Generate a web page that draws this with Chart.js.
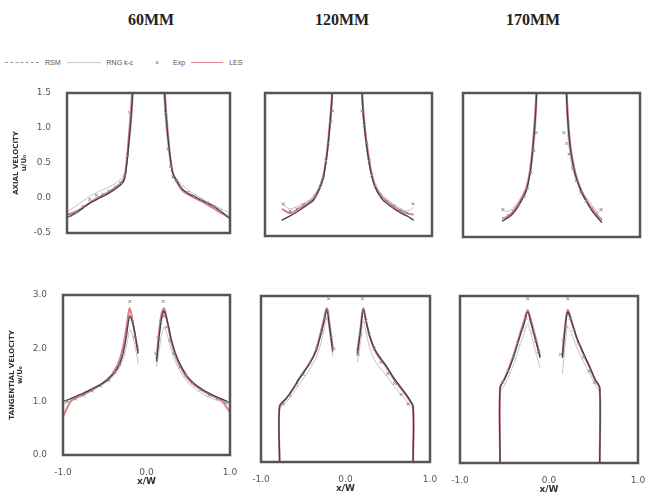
<!DOCTYPE html>
<html lang="en">
<head>
  <meta charset="UTF-8">
  <title>Axial and tangential velocity profiles</title>
  <script src="https://cdn.jsdelivr.net/npm/chart.js"></script>
  <style>
    body { margin: 0; background: #fff; width: 646px; height: 495px; overflow: hidden; position: relative; font-family: "Liberation Sans", Arial, sans-serif; }
    canvas { position: absolute; }
    .title { position: absolute; top: 11px; font: bold 16px "Liberation Serif", "Times New Roman", serif; color: #222; transform: translateX(-50%); }
    #legend { position: absolute; left: 5px; top: 59px; display: flex; align-items: center; font-size: 7px; color: #555; }
    #legend .ln { display: inline-block; width: 34px; height: 0; border-top: 1px solid #bbb; margin-right: 6px; }
    #legend .lab { margin-right: 6px; }
  </style>
</head>
<body>
  <div class="title" style="left:151px">60MM</div>
  <div class="title" style="left:342px">120MM</div>
  <div class="title" style="left:533px">170MM</div>
  <div id="legend">
    <span class="ln" style="border-top:1px dashed #999"></span><span class="lab">RSM</span>
    <span class="ln" style="border-top-color:#ccc"></span><span class="lab">RNG k-ε</span>
    <span class="lab" style="margin-left:16px;margin-right:14px;color:#777">×</span><span class="lab">Exp</span>
    <span class="ln" style="border-top:1.5px solid #e08a96;width:32px"></span><span class="lab">LES</span>
  </div>

  <canvas id="c1"></canvas>
  <canvas id="c2"></canvas>
  <canvas id="c3"></canvas>
  <canvas id="c4"></canvas>
  <canvas id="c5"></canvas>
  <canvas id="c6"></canvas>

  <script>
    // axial velocity, 60MM
    const axial60X   = [-1.0,-0.9,-0.8,-0.7,-0.6,-0.5,-0.42,-0.35,-0.3,-0.27,-0.24,-0.21,-0.18,0,0.18,0.21,0.24,0.27,0.3,0.35,0.42,0.5,0.6,0.7,0.8,0.9,1.0];
    const axial60Rsm = [-0.28,-0.22,-0.14,-0.06,0.0,0.06,0.12,0.18,0.25,0.45,0.8,1.2,1.8,null,1.8,1.25,0.85,0.55,0.35,0.24,0.12,0.06,0.0,-0.06,-0.12,-0.2,-0.3];
    const axial60Les = [-0.24,-0.2,-0.13,-0.05,0.02,0.08,0.14,0.2,0.28,0.5,0.9,1.35,2.0,null,2.0,1.35,0.9,0.55,0.35,0.22,0.1,0.04,-0.02,-0.08,-0.15,-0.22,-0.28];
    const axial60Rng = [-0.2,-0.12,-0.04,0.04,0.1,0.15,0.2,0.26,0.33,0.48,0.72,1.05,1.55,null,1.55,1.05,0.72,0.48,0.35,0.26,0.18,0.1,0.03,-0.04,-0.1,-0.16,-0.22];
    const axial60ExpX = [-0.96,-0.88,-0.8,-0.72,-0.64,-0.56,-0.48,-0.4,-0.34,-0.29,-0.26,-0.23,0.21,0.24,0.27,0.3,0.34,0.4,0.48,0.56,0.64,0.72,0.8,0.88,0.96];
    const axial60Exp  = [-0.25,-0.2,-0.12,-0.02,0.04,0.05,0.1,0.16,0.22,0.32,0.6,1.22,1.22,0.7,0.45,0.3,0.25,0.15,0.08,0.03,-0.02,-0.07,-0.12,-0.18,-0.25];

    // axial velocity, 120MM
    const axial120X   = [-0.8,-0.7,-0.6,-0.5,-0.42,-0.35,-0.3,-0.26,-0.23,-0.2,-0.17,0,0.14,0.17,0.2,0.23,0.27,0.32,0.4,0.5,0.6,0.7,0.78];
    const axial120Rsm = [-0.28,-0.22,-0.15,-0.07,0.0,0.15,0.32,0.62,0.95,1.38,2.1,null,2.1,1.3,0.92,0.65,0.38,0.18,0.02,-0.08,-0.16,-0.22,-0.28];
    const axial120Les = [-0.12,-0.18,-0.12,-0.05,0.03,0.17,0.35,0.65,1.0,1.45,2.1,null,2.1,1.4,0.98,0.7,0.42,0.2,0.05,-0.05,-0.13,-0.18,-0.2];
    const axial120Rng = [-0.05,-0.12,-0.08,-0.02,0.06,0.2,0.38,0.6,0.88,1.25,1.9,null,1.9,1.2,0.85,0.6,0.38,0.22,0.08,-0.02,-0.1,-0.15,-0.1];
    const axial120ExpX = [-0.78,-0.7,-0.62,-0.54,-0.46,-0.4,-0.34,-0.3,-0.27,-0.24,-0.21,-0.19,0.16,0.19,0.22,0.25,0.28,0.32,0.38,0.46,0.54,0.62,0.7,0.77];
    const axial120Exp  = [-0.05,-0.15,-0.12,-0.06,-0.02,0.05,0.18,0.32,0.55,0.8,1.1,1.25,1.25,1.05,0.8,0.55,0.35,0.2,0.08,-0.02,-0.08,-0.14,-0.18,-0.05];

    // axial velocity, 170MM
    const axial170X   = [-0.56,-0.5,-0.44,-0.38,-0.32,-0.28,-0.24,-0.21,-0.18,-0.15,0,0.15,0.18,0.21,0.25,0.29,0.34,0.4,0.46,0.52,0.57];
    const axial170Rsm = [-0.28,-0.24,-0.18,-0.08,0.05,0.16,0.4,0.74,1.2,2.1,null,2.1,1.2,0.76,0.46,0.28,0.12,-0.02,-0.14,-0.23,-0.3];
    const axial170Les = [-0.24,-0.22,-0.15,-0.05,0.08,0.2,0.45,0.8,1.3,2.1,null,2.1,1.3,0.8,0.5,0.3,0.14,0.0,-0.11,-0.2,-0.26];
    const axial170Rng = [-0.1,-0.15,-0.1,-0.02,0.1,0.2,0.38,0.62,1.0,1.8,null,1.8,1.0,0.62,0.4,0.26,0.14,0.04,-0.06,-0.15,-0.1];
    const axial170ExpX = [-0.55,-0.49,-0.43,-0.37,-0.31,-0.27,-0.23,-0.2,-0.17,0.14,0.17,0.2,0.24,0.28,0.33,0.39,0.45,0.51,0.56];
    const axial170Exp  = [-0.12,-0.2,-0.14,-0.06,0.06,0.18,0.4,0.7,0.95,0.95,0.8,0.65,0.45,0.28,0.12,0.0,-0.1,-0.18,-0.12];

    // tangential velocity, 60MM
    const tang60X   = [-1.0,-0.9,-0.8,-0.7,-0.6,-0.5,-0.42,-0.35,-0.3,-0.26,-0.23,-0.2,-0.16,-0.12,-0.1,0,0.12,0.15,0.18,0.21,0.25,0.3,0.36,0.43,0.5,0.6,0.7,0.8,0.9,1.0];
    const tang60Rsm = [1.0,1.06,1.13,1.2,1.28,1.37,1.48,1.62,1.8,2.05,2.35,2.6,2.45,2.1,1.9,null,1.75,2.2,2.55,2.7,2.5,2.15,1.85,1.62,1.45,1.3,1.2,1.12,1.05,0.98];
    const tang60Les = [0.72,1.02,1.1,1.18,1.27,1.38,1.5,1.68,1.9,2.2,2.5,2.75,2.45,2.1,1.95,null,1.8,2.3,2.65,2.75,2.5,2.1,1.8,1.58,1.42,1.28,1.18,1.1,1.02,0.8];
    const tang60Rng = [0.95,1.02,1.1,1.17,1.25,1.34,1.44,1.57,1.72,1.9,2.1,2.35,2.2,1.9,1.7,null,1.65,1.95,2.25,2.4,2.25,1.95,1.7,1.5,1.35,1.22,1.12,1.05,1.0,0.95];
    const tang60ExpX = [-0.95,-0.85,-0.75,-0.65,-0.55,-0.45,-0.38,-0.32,-0.28,-0.24,-0.21,-0.2,-0.17,-0.14,-0.11,0.11,0.14,0.17,0.2,0.21,0.24,0.28,0.33,0.4,0.47,0.55,0.65,0.75,0.85,0.95];
    const tang60Exp  = [1.0,1.05,1.12,1.2,1.3,1.4,1.55,1.7,1.9,2.25,2.6,2.88,2.5,2.2,2.0,1.9,2.2,2.5,2.88,2.6,2.4,2.15,1.9,1.65,1.5,1.35,1.22,1.12,1.05,0.98];

    // tangential velocity, 120MM
    const tang120X   = [-0.78,-0.78,-0.7,-0.63,-0.55,-0.42,-0.35,-0.3,-0.26,-0.22,-0.19,-0.15,0,0.14,0.18,0.21,0.25,0.29,0.36,0.49,0.58,0.68,0.75,0.8,0.8];
    const tang120Rsm = [0,1.0,1.15,1.3,1.5,1.79,2.0,2.26,2.5,2.75,2.45,2.0,null,1.93,2.4,2.75,2.5,2.26,2.0,1.72,1.5,1.3,1.15,1.0,0];
    const tang120Les = [0,1.0,1.15,1.3,1.5,1.8,2.02,2.3,2.55,2.78,2.5,2.05,null,2.0,2.45,2.78,2.5,2.25,1.98,1.7,1.48,1.28,1.13,1.0,0];
    const tang120Rng = [0,0.95,1.08,1.22,1.4,1.68,1.88,2.1,2.35,2.6,2.35,1.9,null,1.8,2.2,2.55,2.3,2.05,1.8,1.55,1.36,1.18,1.05,0.95,0];
    const tang120ExpX = [-0.74,-0.66,-0.58,-0.5,-0.42,-0.34,-0.28,-0.24,-0.21,-0.2,-0.17,-0.14,0.15,0.18,0.2,0.21,0.24,0.28,0.34,0.42,0.5,0.58,0.66,0.74];
    const tang120Exp  = [1.05,1.2,1.4,1.58,1.8,2.05,2.35,2.6,2.72,2.95,2.25,2.05,1.95,2.3,2.95,2.72,2.55,2.3,2.05,1.8,1.6,1.42,1.22,1.05];

    // tangential velocity, 170MM
    const tang170X   = [-0.55,-0.55,-0.5,-0.44,-0.38,-0.33,-0.28,-0.24,-0.2,-0.15,-0.1,0,0.15,0.18,0.21,0.26,0.31,0.38,0.46,0.52,0.57,0.57];
    const tang170Rsm = [0,1.35,1.5,1.72,2.0,2.26,2.5,2.71,2.5,2.2,1.89,null,1.89,2.4,2.71,2.5,2.26,2.0,1.72,1.5,1.35,0];
    const tang170Les = [0,1.35,1.52,1.75,2.03,2.3,2.55,2.75,2.55,2.25,1.92,null,1.92,2.45,2.75,2.52,2.25,1.98,1.7,1.48,1.35,0];
    const tang170Rng = [0,1.25,1.4,1.6,1.85,2.1,2.32,2.5,2.3,2.0,1.7,null,1.6,2.1,2.45,2.3,2.08,1.84,1.6,1.4,1.25,0];
    const tang170ExpX = [-0.52,-0.46,-0.4,-0.35,-0.3,-0.26,-0.24,-0.21,-0.18,-0.15,-0.12,0.13,0.16,0.19,0.21,0.24,0.28,0.33,0.39,0.45,0.51];
    const tang170Exp  = [1.45,1.65,1.9,2.15,2.4,2.6,2.95,2.55,2.35,2.2,2.0,1.95,2.2,2.45,2.95,2.6,2.4,2.15,1.9,1.65,1.45];

    const xTicks = [-1.0, 0.0, 1.0];
    const axialTicks = [-0.5, 0.0, 0.5, 1.0, 1.5];
    const tangTicks = [0.0, 1.0, 2.0, 3.0];

    function pts(xs, ys) {
      return xs.map((x, i) => ({ x: x, y: ys[i] }));
    }

    // cadre autour de la zone de tracé
    const framePlugin = {
      id: "frame",
      afterDraw(chart) {
        const a = chart.chartArea, ctx = chart.ctx;
        ctx.save();
        ctx.strokeStyle = "#555";
        ctx.lineWidth = 2.5;
        ctx.strokeRect(a.left, a.top, a.right - a.left, a.bottom - a.top);
        ctx.restore();
      }
    };

    const PAD = 14, YW = 67, XH = 32;

    function panel(id, box, d) {
      const c = document.getElementById(id);
      const padLeft = d.showY ? 0 : PAD;
      c.width = box.w + (d.showY ? YW : PAD) + PAD;
      c.height = box.h + PAD + (d.showX ? XH : PAD);
      c.style.left = (box.left - (d.showY ? YW : PAD)) + "px";
      c.style.top = (box.top - PAD) + "px";

      // le premier jeu de données est dessiné au-dessus
      new Chart(c.getContext("2d"), {
        type: "line",
        data: {
          datasets: [
            { label: "Exp", data: pts(d.ex, d.ey), showLine: false, pointStyle: "crossRot", pointRadius: 2, borderColor: "#888", borderWidth: 1 },
            { label: "RSM", data: pts(d.x, d.rsm), borderColor: "#444", borderWidth: 1.4, pointRadius: 0, tension: 0.3 },
            { label: "LES", data: pts(d.x, d.les), borderColor: "#de7f8c", borderWidth: 2, pointRadius: 0, tension: 0.3 },
            { label: "RNG k-ε", data: pts(d.x, d.rng), borderColor: "#c4c4c4", borderWidth: 1, pointRadius: 0, tension: 0.3 }
          ]
        },
        options: {
          responsive: false,
          animation: false,
          spanGaps: false,
          layout: { padding: { left: padLeft, right: PAD, top: PAD, bottom: d.showX ? 0 : PAD } },
          plugins: { legend: { display: false }, tooltip: { enabled: false } },
          scales: {
            x: {
              type: "linear", min: -1, max: 1,
              display: d.showX,
              afterBuildTicks: s => { s.ticks = xTicks.map(v => ({ value: v })); },
              afterFit: s => { s.height = d.showX ? XH : 0; },
              grid: { display: false },
              border: { display: false },
              ticks: { color: "#555", font: { family: "DejaVu Sans", size: 9 }, padding: 4, callback: v => v.toFixed(1) },
              title: { display: true, text: "x/W", color: "#333", font: { family: "DejaVu Sans", size: 9, weight: "bold" }, padding: 0 }
            },
            y: {
              min: d.ymin, max: d.ymax,
              display: d.showY,
              afterBuildTicks: s => { s.ticks = d.yticks.map(v => ({ value: v })); },
              afterFit: s => { s.width = d.showY ? YW : 0; },
              grid: { display: false },
              border: { display: false },
              ticks: { color: "#555", font: { family: "DejaVu Sans", size: 9 }, padding: 8, callback: v => v.toFixed(1) },
              title: { display: true, text: d.ytitle || "", color: "#333", font: { family: "DejaVu Sans", size: 7, weight: "bold" }, padding: { top: 12, bottom: 0 } }
            }
          }
        },
        plugins: [framePlugin]
      });
    }

    panel("c1", { left: 67, top: 93, w: 163, h: 140 }, {
      showY: true, showX: false, ymin: -0.5, ymax: 1.5, yticks: axialTicks, ytitle: ["AXIAL VELOCITY", "u/U₀"],
      x: axial60X, rsm: axial60Rsm, les: axial60Les, rng: axial60Rng, ex: axial60ExpX, ey: axial60Exp
    });
    panel("c2", { left: 265, top: 93, w: 167, h: 143 }, {
      showY: false, showX: false, ymin: -0.5, ymax: 1.5, yticks: axialTicks,
      x: axial120X, rsm: axial120Rsm, les: axial120Les, rng: axial120Rng, ex: axial120ExpX, ey: axial120Exp
    });
    panel("c3", { left: 463, top: 93, w: 177, h: 144 }, {
      showY: false, showX: false, ymin: -0.5, ymax: 1.5, yticks: axialTicks,
      x: axial170X, rsm: axial170Rsm, les: axial170Les, rng: axial170Rng, ex: axial170ExpX, ey: axial170Exp
    });
    panel("c4", { left: 63, top: 295, w: 167, h: 160 }, {
      showY: true, showX: true, ymin: 0, ymax: 3, yticks: tangTicks, ytitle: ["TANGENTIAL VELOCITY", "w/U₀"],
      x: tang60X, rsm: tang60Rsm, les: tang60Les, rng: tang60Rng, ex: tang60ExpX, ey: tang60Exp
    });
    panel("c5", { left: 261, top: 296, w: 169, h: 166 }, {
      showY: false, showX: true, ymin: 0, ymax: 3, yticks: tangTicks,
      x: tang120X, rsm: tang120Rsm, les: tang120Les, rng: tang120Rng, ex: tang120ExpX, ey: tang120Exp
    });
    panel("c6", { left: 460, top: 296, w: 178, h: 167 }, {
      showY: false, showX: true, ymin: 0, ymax: 3, yticks: tangTicks,
      x: tang170X, rsm: tang170Rsm, les: tang170Les, rng: tang170Rng, ex: tang170ExpX, ey: tang170Exp
    });
  </script>
</body>
</html>
